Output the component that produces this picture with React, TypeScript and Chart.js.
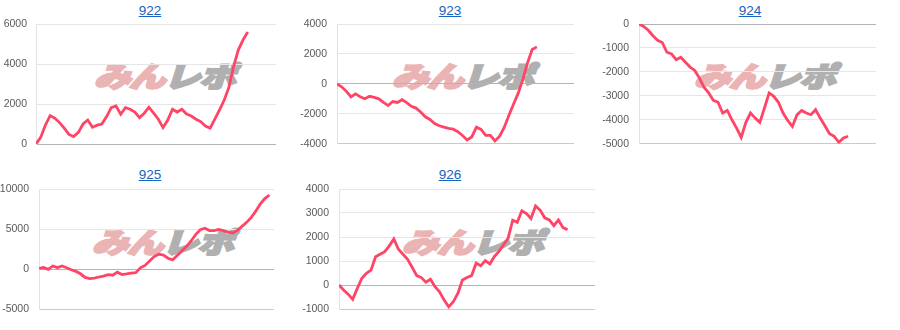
import React, { useEffect, useRef } from "react";
import { Chart, registerables } from "chart.js";
Chart.register(...registerables);

const titles = ["922", "923", "924", "925", "926"];

const values922 = [0, 330, 950, 1420, 1290, 1070, 790, 480, 370, 580, 1000, 1200, 840, 940, 1000, 1370, 1820, 1900, 1490, 1820, 1740, 1600, 1320, 1540, 1840, 1540, 1240, 820, 1200, 1740, 1600, 1740, 1500, 1400, 1240, 1120, 900, 790, 1240, 1700, 2200, 2840, 3880, 4710, 5210, 5600];
const values923 = [0, -200, -490, -870, -670, -870, -1000, -830, -900, -1000, -1240, -1450, -1180, -1240, -1060, -1250, -1500, -1620, -1880, -2200, -2380, -2650, -2800, -2890, -2980, -3030, -3200, -3450, -3750, -3550, -2900, -3050, -3450, -3450, -3820, -3500, -2900, -2100, -1350, -620, 300, 1400, 2300, 2470];
const values924 = [0, -100, -260, -490, -680, -770, -1180, -1250, -1490, -1390, -1600, -1800, -1940, -2260, -2650, -2880, -3190, -3270, -3720, -3610, -4000, -4350, -4740, -4110, -3720, -3930, -4110, -3510, -2880, -3020, -3270, -3720, -4030, -4280, -3790, -3610, -3720, -3790, -3580, -3930, -4250, -4580, -4690, -4940, -4760, -4690];
const values925 = [80, 200, -40, 380, 170, 380, 150, -100, -300, -600, -1050, -1200, -1130, -1000, -880, -700, -780, -400, -700, -620, -520, -450, 150, 450, 1000, 1550, 1850, 1750, 1350, 1150, 1700, 2250, 2800, 3500, 4300, 4900, 5100, 4800, 4800, 4950, 4800, 4600, 4500, 4800, 5300, 5800, 6400, 7200, 8100, 8800, 9250];
const values926 = [0, -210, -380, -600, -140, 280, 490, 620, 1180, 1280, 1390, 1630, 1920, 1490, 1280, 1070, 740, 390, 310, 120, 240, -70, -280, -630, -910, -700, -350, 210, 310, 390, 910, 800, 1020, 880, 1190, 1400, 1670, 1950, 2700, 2610, 3090, 2980, 2770, 3290, 3120, 2800, 2710, 2470, 2710, 2390, 2300];

// number of x positions on each chart's axis
const slots = [52, 52, 52, 52, 57];
// y axis ranges
const yMins = [0, -4000, -5000, -5000, -1000];
const yMaxs = [6000, 4000, 0, 10000, 4000];
const ySteps = [2000, 2000, 1000, 5000, 1000];

const allValues = [values922, values923, values924, values925, values926];

const FONT = "Arial, 'Liberation Sans', sans-serif";
const LINE = "#ff4466";

type Layout = {
  cx: number; cy: number; ch: number;
  padL: number; padR: number; padT: number; padB: number; tickPad: number;
  titleTop: number; wmX: number; wmY: number;
};

const layouts: Layout[] = [
  { cx: 0, cy: 0, ch: 160, padL: 36, padR: 24, padT: 24, padB: 16, tickPad: 9, titleTop: 3, wmX: 102, wmY: 62 },
  { cx: 300, cy: 0, ch: 160, padL: 37, padR: 26, padT: 24, padB: 16, tickPad: 10, titleTop: 3, wmX: 100, wmY: 62 },
  { cx: 600, cy: 0, ch: 160, padL: 39, padR: 24, padT: 24, padB: 16, tickPad: 10, titleTop: 3, wmX: 102, wmY: 62 },
  { cx: 0, cy: 164, ch: 166, padL: 39, padR: 26, padT: 25, padB: 21, tickPad: 10, titleTop: 167, wmX: 100, wmY: 64 },
  { cx: 300, cy: 164, ch: 166, padL: 39, padR: 5, padT: 25, padB: 21, tickPad: 10, titleTop: 167, wmX: 110, wmY: 64 },
];

function Watermark({ x, y }: { x: number; y: number }) {
  const common: any = {
    WebkitTextStroke: "2.2px currentColor",
  };
  return (
    <div
      style={{
        position: "absolute",
        left: x,
        top: y,
        width: 142,
        height: 27,
        overflow: "visible",
        pointerEvents: "none",
      }}
    >
      <div
        style={{
          transformOrigin: "0 0",
          transform: "scaleX(1.3) skewX(-14deg)",
          whiteSpace: "nowrap",
          fontFamily: "'Noto Sans CJK JP', sans-serif",
          fontWeight: 900,
          fontSize: 28,
          lineHeight: "27px",
          letterSpacing: -1,
        }}
      >
        <span style={{ ...common, color: "#eab4b4" }}>みん</span>
        <span style={{ ...common, color: "#b0b0b0" }}>レポ</span>
      </div>
    </div>
  );
}

function Mini({ idx }: { idx: number }) {
  const ref = useRef<HTMLCanvasElement | null>(null);
  const L = layouts[idx];
  useEffect(() => {
    if (!ref.current) return;
    const vals = allValues[idx];
    const chart = new Chart(ref.current, {
      type: "line",
      data: {
        datasets: [
          {
            data: vals.map((v, i) => ({ x: i, y: v })),
            borderColor: LINE,
            borderWidth: 2.8,
            pointRadius: 0,
            tension: 0,
            fill: false,
          },
        ],
      },
      options: {
        animation: false,
        responsive: false,
        events: [],
        layout: { padding: { left: 0, right: L.padR, top: L.padT, bottom: L.padB } },
        plugins: { legend: { display: false }, tooltip: { enabled: false }, title: { display: false } },
        scales: {
          x: { type: "linear", display: false, min: 0, max: slots[idx] - 1 },
          y: {
            min: yMins[idx],
            max: yMaxs[idx],
            afterFit: (s: any) => { s.width = L.padL; },
            ticks: {
              stepSize: ySteps[idx],
              padding: L.tickPad,
              color: "#5a5a5a",
              font: { family: FONT, size: 10.5 },
              callback: (v: any) => String(v),
            },
            grid: {
              drawTicks: false,
              lineWidth: 1,
              color: (c: any) => {
                if (c.tick && c.tick.value === 0) return "#b4b4b4";
                if (c.index === 0) return "#cacaca";
                return "#e6e6e6";
              },
            },
            border: { display: true, color: "#e2e2e2" },
          },
        },
      },
    });
    return () => chart.destroy();
  }, [idx]);
  return (
    <>
      <div
        style={{
          position: "absolute",
          left: L.cx,
          top: L.titleTop,
          width: 300,
          textAlign: "center",
          fontFamily: FONT,
          fontSize: 13.5,
          lineHeight: "15px",
        }}
      >
        <a href="#" style={{ color: "#1565c0", textDecoration: "underline" }}>{titles[idx]}</a>
      </div>
      <div style={{ position: "absolute", left: L.cx, top: L.cy, width: 300, height: L.ch }}>
        <Watermark x={L.wmX} y={L.wmY} />
        <canvas
          ref={ref}
          width={300}
          height={L.ch}
          style={{ position: "absolute", left: 0, top: 0, width: 300, height: L.ch }}
        />
      </div>
    </>
  );
}

export default function App() {
  return (
    <div style={{ position: "absolute", left: 0, top: 0, width: 900, height: 330, background: "#fff", overflow: "hidden" }}>
      {titles.map((_, i) => (
        <Mini key={i} idx={i} />
      ))}
    </div>
  );
}
